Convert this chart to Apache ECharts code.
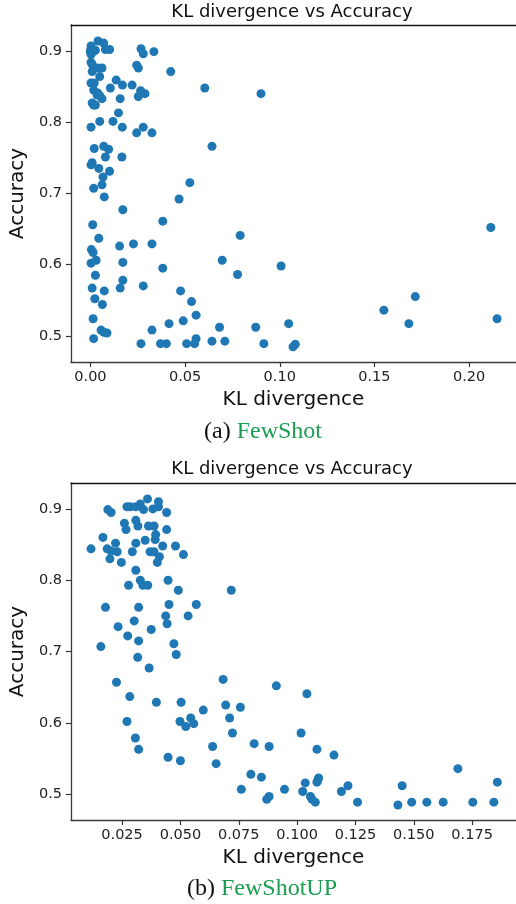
<!DOCTYPE html>
<html><head><meta charset="utf-8">
<script src="https://cdn.jsdelivr.net/npm/echarts@6/dist/echarts.min.js"></script>
<style>html,body{margin:0;padding:0;background:#fff}#c{width:516px;height:904px}</style>
</head><body><div id="c"></div>
<script>
// ---- Data: (a) FewShot ----
const fewShotKL = [0.0040,0.0070,0.0003,0.0026,0.0000,0.0079,0.0101,0.0003,0.0009,0.0038,0.0061,0.0049,0.0003,0.0020,0.0017,0.0038,0.0061,0.0009,0.0026,0.0049,0.0003,0.0020,0.0070,0.0096,0.0079,0.0009,0.0003,0.0044,0.0066,0.0101,0.0061,0.0017,0.0073,0.0012,0.0044,0.0005,0.0014,0.0030,0.0003,0.0026,0.0009,0.0073,0.0023,0.0063,0.0014,0.0056,0.0070,0.0087,0.0017,0.0000,0.0014,0.0003,0.0009,0.0035,0.0049,0.0017,
0.0136,0.0105,0.0169,0.0157,0.0148,0.0119,0.0168,0.0166,0.0171,0.0154,0.0171,0.0171,0.0157,
0.0267,0.0279,0.0335,0.0244,0.0253,0.0220,0.0265,0.0288,0.0253,0.0279,0.0244,0.0325,0.0227,0.0325,0.0279,0.0325,0.0267,
0.0424,0.0382,0.0382,0.0468,0.0525,0.0476,0.0534,0.0558,0.0490,0.0415,0.0558,0.0370,0.0401,0.0508,0.0550,0.0604,0.0642,0.0642,0.0710,0.0682,0.0696,0.0791,0.0777,0.0901,0.0916,0.0873,0.1007,0.1047,0.1070,0.1082,0.1550,0.1682,0.1716,0.2115,0.2148];
const fewShotAcc = [0.914,0.911,0.907,0.901,0.898,0.902,0.902,0.884,0.871,0.876,0.876,0.864,0.855,0.855,0.845,0.841,0.833,0.827,0.824,0.801,0.793,0.763,0.766,0.762,0.751,0.743,0.740,0.735,0.723,0.731,0.712,0.707,0.695,0.656,0.637,0.621,0.617,0.606,0.602,0.585,0.567,0.563,0.552,0.544,0.524,0.508,0.505,0.504,0.496,0.901,0.899,0.895,0.881,0.838,0.837,0.824,
0.859,0.848,0.852,0.833,0.813,0.801,0.793,0.751,0.677,0.626,0.603,0.578,0.567,
0.903,0.896,0.899,0.880,0.876,0.852,0.844,0.840,0.836,0.793,0.785,0.785,0.629,0.629,0.570,0.508,0.489,
0.871,0.661,0.595,0.692,0.715,0.563,0.548,0.529,0.521,0.517,0.496,0.489,0.489,0.489,0.489,0.848,0.766,0.4925,0.4925,0.512,0.606,0.641,0.586,0.840,0.489,0.512,0.598,0.517,0.4845,0.488,0.536,0.517,0.555,0.652,0.524];

// ---- Data: (b) FewShotUP ----
const fewShotUpKL = [0.0117,0.0168,0.0179,0.0159,0.0189,0.0203,0.0186,0.0203,0.0222,0.0229,0.0198,0.0247,0.0233,0.0226,0.0260,0.0267,0.0271,0.0285,0.0309,0.0328,0.0342,0.0309,0.0318,0.0309,0.0294,0.0309,0.0278,0.0328,0.0339,0.0360,0.0321,0.0302,0.0274,0.0321,0.0317,0.0366,0.0375,0.0283,0.0271,0.0307,0.0321,
0.0359,0.0382,0.0406,0.0406,0.0441,0.0349,0.0363,0.0387,0.0394,0.0392,0.0370,0.0387,0.0410,0.0401,0.0424,0.0441,0.0479,0.0513,0.0447,0.0491,0.0451,0.0568,0.0437,0.0443,0.0533,0.0472,0.0482,0.0397,0.0447,0.0500,0.0503,0.0498,0.0523,0.0544,0.0557,0.0598,
0.0718,0.0683,0.0694,0.0711,0.0757,0.0723,0.0638,0.0653,0.0761,0.0802,0.0816,0.0847,0.0880,0.0870,0.0880,0.0911,0.0946,0.1017,0.1042,0.1024,0.1035,0.1057,0.1064,0.1078,0.1085,0.1085,0.1089,0.1092,0.1158,0.1190,0.1218,0.1259,0.1432,0.1450,0.1491,0.1556,0.1626,0.1689,0.1753,0.1843,0.1858];
const fewShotUpAcc = [0.844,0.860,0.762,0.707,0.899,0.895,0.844,0.841,0.852,0.840,0.830,0.825,0.735,0.657,0.880,0.871,0.903,0.903,0.903,0.907,0.899,0.884,0.876,0.852,0.840,0.814,0.793,0.800,0.793,0.793,0.762,0.743,0.722,0.715,0.692,0.677,0.731,0.637,0.602,0.579,0.563,
0.914,0.900,0.910,0.903,0.895,0.856,0.876,0.876,0.864,0.857,0.840,0.840,0.833,0.825,0.848,0.871,0.848,0.836,0.800,0.786,0.766,0.766,0.750,0.739,0.750,0.711,0.696,0.629,0.552,0.547,0.629,0.602,0.595,0.607,0.599,0.618,
0.786,0.661,0.625,0.607,0.622,0.586,0.567,0.543,0.507,0.528,0.571,0.524,0.567,0.493,0.497,0.652,0.507,0.586,0.641,0.504,0.516,0.497,0.493,0.489,0.563,0.517,0.520,0.523,0.555,0.504,0.512,0.489,0.485,0.512,0.489,0.489,0.489,0.536,0.489,0.489,0.517];

// ---- Tick labels ----
const yTicks = [0.5, 0.6, 0.7, 0.8, 0.9];
const xTicksA = [0.00, 0.05, 0.10, 0.15, 0.20];
const xTicksB = [0.025, 0.050, 0.075, 0.100, 0.125, 0.150, 0.175];

const titleText = 'KL divergence vs Accuracy';
const xName = 'KL divergence';
const yName = 'Accuracy';

const zip = (a, b) => a.map((v, i) => [v, b[i]]);
const FONT = 'DejaVu Sans';
const spine = {show: true, onZero: false, lineStyle: {color: '#3a3a3a', width: 1.3}};

function xAxisCfg(grid, min, max, ticks, dec) {
  return {
    type: 'value', gridIndex: grid, min, max, position: 'bottom',
    name: xName, nameLocation: 'middle', nameGap: 28,
    nameTextStyle: {fontFamily: FONT, fontSize: 20, color: '#111'},
    axisLine: spine,
    axisTick: {show: true, length: 5, customValues: ticks, lineStyle: {color: '#333', width: 1.2}},
    axisLabel: {customValues: ticks, fontFamily: FONT, fontSize: 14.5, color: '#222', margin: 8,
      formatter: v => Number(v).toFixed(dec)},
    splitLine: {show: false}
  };
}
function topAxisCfg(grid, min, max) {
  return {type: 'value', gridIndex: grid, min, max, position: 'top',
    axisLine: {show: true, onZero: false, lineStyle: {color: '#111', width: 1.3}},
    axisTick: {show: false}, axisLabel: {show: false}, splitLine: {show: false}};
}
function yAxisCfg(grid, min, max) {
  return {
    type: 'value', gridIndex: grid, min, max, position: 'left',
    name: yName, nameLocation: 'middle', nameGap: 42, nameRotate: 90,
    nameTextStyle: {fontFamily: FONT, fontSize: 20, color: '#111'},
    axisLine: spine,
    axisTick: {show: true, length: 5, customValues: yTicks, lineStyle: {color: '#333', width: 1.2}},
    axisLabel: {customValues: yTicks, fontFamily: FONT, fontSize: 14.5, color: '#222', margin: 9,
      formatter: v => Number(v).toFixed(1)},
    splitLine: {show: false}
  };
}

const capRich = {
  a: {fontFamily: 'Liberation Serif', fontSize: 24, fontWeight: 'normal', color: '#111'},
  b: {fontFamily: 'Liberation Serif', fontSize: 24, fontWeight: 'normal', color: '#1b9e50'}
};

const chart = echarts.init(document.getElementById('c'), null, {renderer: 'canvas'});
chart.setOption({
  backgroundColor: '#fff',
  animation: false,
  title: [
    {text: titleText, left: 292, top: 3, textAlign: 'center', padding: 0,
     textStyle: {fontFamily: FONT, fontSize: 18, fontWeight: 'normal', color: '#111'}},
    {text: titleText, left: 292, top: 460, textAlign: 'center', padding: 0,
     textStyle: {fontFamily: FONT, fontSize: 18, fontWeight: 'normal', color: '#111'}},
    {text: '{a|(a) }{b|FewShot}', left: 263, top: 420, textAlign: 'center', padding: 0,
     textStyle: {fontWeight: 'normal', rich: capRich}},
    {text: '{a|(b) }{b|FewShotUP}', left: 262, top: 877, textAlign: 'center', padding: 0,
     textStyle: {fontWeight: 'normal', rich: capRich}}
  ],
  grid: [
    {left: 67, top: 25, width: 449, height: 337, containLabel: false},
    {left: 67, top: 483, width: 449, height: 337, containLabel: false}
  ],
  xAxis: [
    xAxisCfg(0, -0.0103, 0.2248, xTicksA, 2),
    topAxisCfg(0, -0.0103, 0.2248),
    xAxisCfg(1, 0.0031, 0.1938, xTicksB, 3),
    topAxisCfg(1, 0.0031, 0.1938)
  ],
  yAxis: [
    yAxisCfg(0, 0.4632, 0.9364),
    yAxisCfg(1, 0.4640, 0.9363)
  ],
  series: [
    {type: 'scatter', xAxisIndex: 0, yAxisIndex: 0, data: zip(fewShotKL, fewShotAcc),
     symbolSize: 9, itemStyle: {color: '#1f77b4', opacity: 1}},
    {type: 'scatter', xAxisIndex: 2, yAxisIndex: 1, data: zip(fewShotUpKL, fewShotUpAcc),
     symbolSize: 9, itemStyle: {color: '#1f77b4', opacity: 1}}
  ]
});
</script>
</body></html>
